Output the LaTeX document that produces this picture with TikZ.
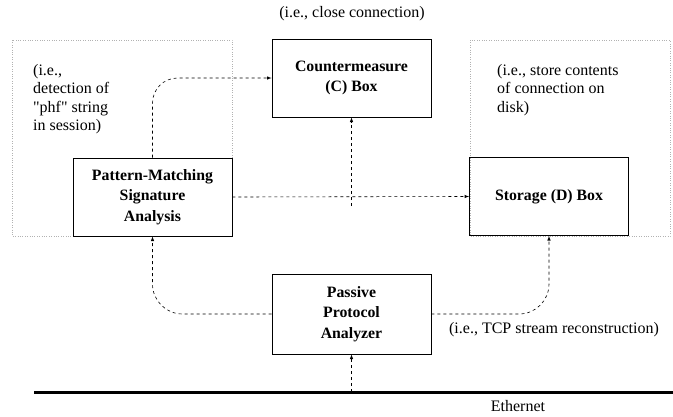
\documentclass[tikz,border=0pt]{standalone}
\usepackage{fontspec}
\setmainfont{Liberation Serif}
\newfontfamily\plainq{Liberation Serif}
\usepackage{tikz}
\usetikzlibrary{arrows}
\tikzstyle{box} = [draw,rectangle,line width=0.8pt,minimum width=159pt,minimum height=78pt,align=center,font=\fontsize{15.8}{20.5}\selectfont\bfseries]
\tikzstyle{note} = [align=left,inner sep=0pt,font=\fontsize{16}{18.5}\selectfont]
\tikzstyle{conn} = [->,>=latex,dash pattern=on 3pt off 3pt,line width=0.6pt]
\tikzstyle{frame} = [gray!60,dotted]

\begin{document}
\begin{tikzpicture}[x=1pt,y=-1pt]
            \useasboundingbox (0,0) rectangle (673,416);
            % faint groupings
            \draw[frame] (12,40) rectangle (232,236);
            \draw[frame] (470,40) rectangle (670,236);
            % boxes
            \node[box] (cm) at (351.5,78) {Countermeasure \\ (C) Box};
            \node[box] (pm) at (152.5,197) {Pattern-Matching \\ Signature \\ Analysis};
            \node[box] (st) at (549,196.5) {Storage (D) Box};
            \node[box,minimum height=80pt] (ppa) at (351.5,314) {Passive \\ Protocol \\ Analyzer};
            % notes
            \node[note] (close) at (352,14) {(i.e., close connection)};
            \node[note,anchor=north west] (phf) at (33,64) {(i.e.,\\ detection of\\ {\plainq"}phf{\plainq"} string\\ in session)};
            \node[note,anchor=north west] (disk) at (497,64) {(i.e., store contents\\ of connection on\\ disk)};
            \node[note] (tcp) at (554,330) {(i.e., TCP stream reconstruction)};
            % ethernet
            \coordinate (eth-l) at (34,392);
            \coordinate (eth-r) at (673,392);
            \draw[line width=3pt] (eth-l) -- (eth-r);
            \node[note] (eth) at (518,406) {Ethernet};
            % connectors
            \draw[conn,rounded corners=25pt] (pm.north) |- (cm.west);
            \draw[conn] (pm.east) -- (st.west);
            \coordinate (j) at (351.5,206);
            \draw[conn] (j) -- (cm.south);
            \draw[conn,rounded corners=30pt] (ppa.west) -| (pm.south);
            \draw[conn,rounded corners=30pt] (ppa.east) -| (st.south);
            \draw[conn] (eth-l -| ppa.south) -- (ppa.south);
        \end{tikzpicture}
\end{document}
